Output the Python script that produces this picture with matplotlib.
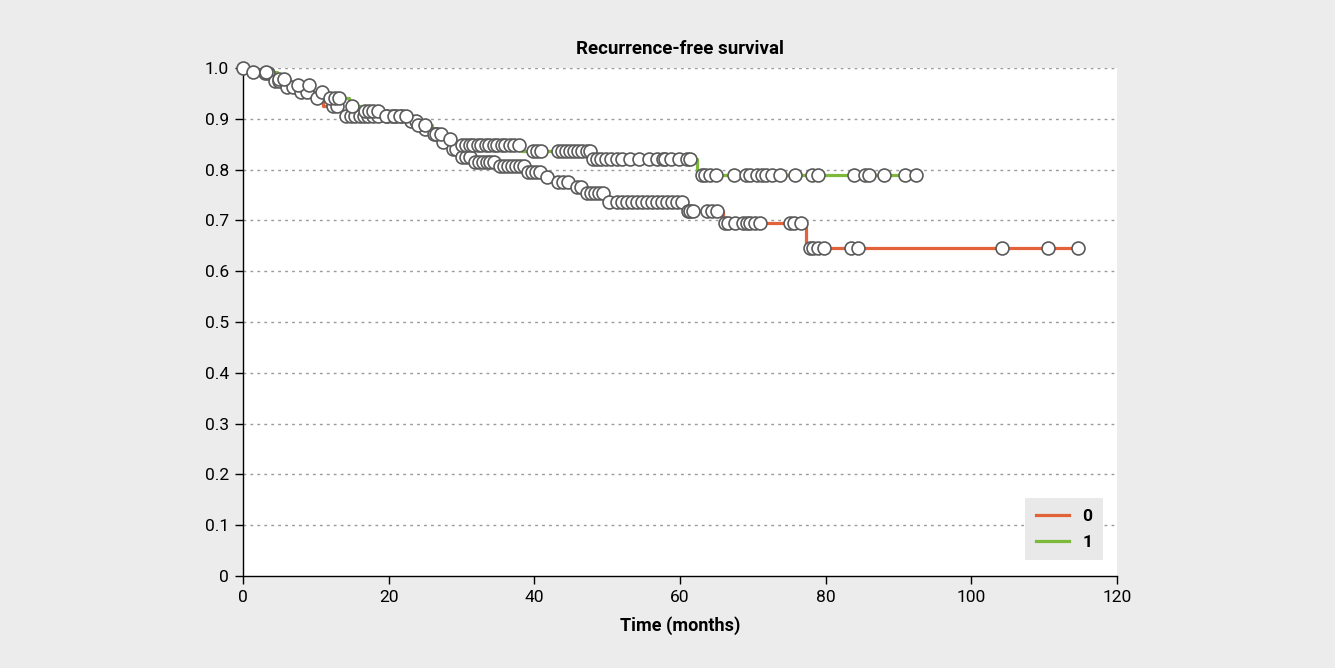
import numpy as np
import matplotlib
matplotlib.use("Agg")
import matplotlib.pyplot as plt

# ---------------- data ----------------
# Group 0 (red): step times and survival levels
g0_time = [0, 2.4, 3.9, 5.6, 7.3, 9.5, 11.0, 13.6, 22.5, 24.5, 25.5, 27.0, 28.3,
           29.8, 31.3, 34.9, 38.7, 41.6, 42.8, 45.3, 46.8, 49.8, 60.4, 65.9, 77.3]
g0_surv = [1.0, 0.99, 0.975, 0.962, 0.952, 0.94, 0.925, 0.905, 0.895, 0.88, 0.87, 0.855, 0.84,
           0.825, 0.815, 0.807, 0.795, 0.786, 0.776, 0.766, 0.754, 0.737, 0.718, 0.695, 0.646]
g0_end = 114.6
g0_censor = [3.0, 3.5, 4.4, 5.0, 6.0, 6.8, 8.0, 8.8, 10.2, 12.3, 12.9, 14.2, 14.8, 15.4,
             16.0, 16.6, 17.2, 17.8, 18.6, 19.8, 20.4, 21.0, 21.8, 23.0, 23.8, 25.0,
             26.2, 26.6, 27.5, 28.8, 29.2,
             30.1, 30.6, 31.1,
             31.9, 32.4, 33.0, 33.5, 33.9, 34.5,
             35.3, 35.8, 36.4, 36.9, 37.5, 38.0, 38.6,
             39.1, 39.7, 40.2, 40.8,
             41.7,
             43.3, 43.9, 44.6,
             45.9, 46.4,
             47.2, 47.8, 48.3, 48.9, 49.4,
             50.3, 51.4, 52.0, 52.7, 53.4, 54.1, 54.8, 55.5, 56.2, 56.8, 57.5, 58.2,
             58.9, 59.6, 60.3,
             61.1, 61.4, 61.8, 63.7, 64.4, 65.1,
             66.2, 66.6, 67.6, 68.7, 69.2, 69.6, 70.3, 71.0, 75.1, 75.7, 76.6,
             77.9, 78.3, 79.0, 79.8, 83.5, 84.4, 104.2, 110.5, 114.6]

# Group 1 (green)
g1_time = [0, 1.2, 4.6, 6.5, 9.5, 11.5, 14.5, 16.5, 19.2, 23.5, 26.0, 27.5, 29.0,
           38.3, 47.9, 62.3]
g1_surv = [1.0, 0.992, 0.978, 0.966, 0.953, 0.94, 0.925, 0.915, 0.905, 0.888, 0.87, 0.86,
           0.848, 0.836, 0.82, 0.79]
g1_end = 92.4
g1_censor = [0.0, 1.4, 3.2, 5.0, 5.6, 7.6, 9.0, 10.8, 12.0, 12.6, 13.2, 15.0, 16.8,
             17.3, 17.9, 18.5, 19.6, 20.8, 21.6, 22.4, 24.0, 25.0, 26.5, 27.2, 28.4,
             30.1, 30.6, 31.1, 31.6, 32.2, 32.7, 33.3, 33.8, 34.4, 34.9, 35.5, 36.0,
             36.6, 37.2, 37.9,
             39.8, 40.4, 40.9, 43.3, 43.8, 44.4, 44.9, 45.5, 46.0, 46.6, 47.2, 47.7,
             48.1, 48.6, 49.1, 49.8, 50.5, 51.3, 52.1, 53.1, 54.4, 55.8, 56.9, 57.6,
             58.0, 58.7, 59.9, 61.0, 61.4,
             63.0, 63.5, 64.1, 64.9, 67.4, 69.1, 69.6, 70.6, 71.3, 71.8, 72.6, 73.7,
             75.8, 78.1, 78.9, 83.9, 85.4, 85.9, 88.0, 90.9, 92.4]

groups = ["0", "1"]
colors = ["#e2623a", "#7dba3c"]

x_ticks = [0, 20, 40, 60, 80, 100, 120]
y_ticks = [0, 0.1, 0.2, 0.3, 0.4, 0.5, 0.6, 0.7, 0.8, 0.9, 1.0]
y_ticklabels = ["0", "0.1", "0.2", "0.3", "0.4", "0.5", "0.6", "0.7", "0.8", "0.9", "1.0"]

# ---------------- plot ----------------
plt.rcParams['font.family'] = ['Roboto', 'DejaVu Sans']
bg = "#ebeceb"
fig = plt.figure(figsize=(13.35, 6.68), dpi=100, facecolor=bg)
ax = fig.add_axes([243/1335, 1-576/668, (1117-243)/1335, (576-68)/668])
ax.set_facecolor("white")

def step_value(times, surv, c):
    idx = np.searchsorted(times, c, side="right") - 1
    return np.asarray(surv)[idx]

data = [(g0_time, g0_surv, g0_end, g0_censor), (g1_time, g1_surv, g1_end, g1_censor)]
for (t, s, end, cens), name, col in zip(data, groups, colors):
    tt = np.append(t, end)
    ss = np.append(s, s[-1])
    ax.step(tt, ss, where="post", color=col, lw=2.3, label=name, zorder=3)
for (t, s, end, cens) in data:
    cy = step_value(t, s, np.array(cens))
    ax.plot(cens, cy, linestyle="none", marker="o", markersize=9.3,
            markerfacecolor="white", markeredgecolor="#5a5a5a", markeredgewidth=1.2,
            zorder=4, clip_on=False)

ax.set_xlim(0, 120)
ax.set_ylim(0, 1.0)
ax.set_xticks(x_ticks)
ax.set_yticks(y_ticks)
ax.set_yticklabels(y_ticklabels)
ax.tick_params(axis="both", direction="out", length=6, width=1, labelsize=12.5,
               colors="black", pad=4)

for yv in y_ticks[1:]:
    ax.axhline(yv, color="#9a9a9a", lw=1.0, linestyle=(0, (2, 3)), zorder=1)

for sp in ["top", "right"]:
    ax.spines[sp].set_visible(False)
for sp in ["left", "bottom"]:
    ax.spines[sp].set_linewidth(1.0)
    ax.spines[sp].set_color("black")

ax.set_title("Recurrence-free survival", fontsize=13.5, fontweight="bold", pad=10)
ax.set_xlabel("Time (months)", fontsize=13, fontweight="bold", labelpad=8)

leg = ax.legend(loc="lower right", bbox_to_anchor=(0.984, 0.0315), borderaxespad=0,
                frameon=True, fancybox=False, facecolor="#e8e9e8", edgecolor="none",
                framealpha=1, fontsize=12.5, handlelength=1.9, handletextpad=0.8,
                labelspacing=0.6, borderpad=0.6)
for txt in leg.get_texts():
    txt.set_fontweight("bold")
leg.set_zorder(5)

fig.savefig("out.png", dpi=100, facecolor=bg)
